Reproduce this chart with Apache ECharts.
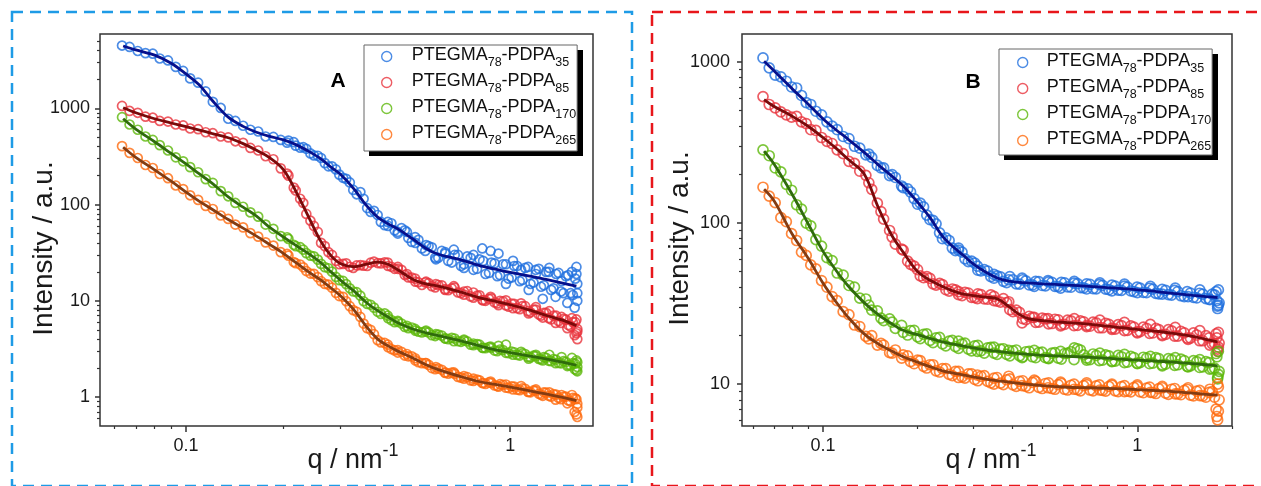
<!DOCTYPE html>
<html><head><meta charset="utf-8">
<script src="https://cdn.jsdelivr.net/npm/echarts@6/dist/echarts.min.js"></script>
<style>html,body{margin:0;padding:0;background:#fff}#c{width:1261px;height:486px}</style>
</head><body><div id="c"></div>
<script>
const seriesNames = ['PTEGMA78-PDPA35','PTEGMA78-PDPA85','PTEGMA78-PDPA170','PTEGMA78-PDPA265'];

// ---------- Panel A ----------
const qA = [0.0635,0.067,0.071,0.075,0.079,0.083,0.088,0.093,0.098,0.103,
0.109,0.115,0.121,0.128,0.135,0.142,0.150,0.158,0.167,0.176,
0.186,0.196,0.207,0.218,0.230,0.242,0.255,0.268,0.282,0.297,
0.312,0.328,0.345,0.362,0.380,0.399,0.419,0.440,0.462,0.485,
0.509,0.534,0.560,0.587,0.615,0.644,0.674,0.705,0.737,0.770,
0.804,0.839,0.875,0.912,0.950,0.989,1.029,1.070,1.112,1.155,
1.199,1.244,1.290,1.337,1.385,1.434,1.484,1.535,1.587,1.610];
const blueA = [4500,4350,3950,3750,3700,3300,3150,2700,2450,2050,
1850,1500,1170,1010,780,740,660,600,575,510,
505,470,462,410,395,340,322,270,250,205,
185,142,135,92,86,66,66,54,57,45,
46,35,37,28,33,26,30,23,29,21,
27,19,25,18,24,17,23,16,22,15,
21,14,20,13,19,12.5,18,12,17,12];
const redA = [1060,940,900,820,800,740,730,680,665,618,
608,565,552,510,500,455,438,388,365,318,
296,238,200,140,104,68,52,37,30,24,
24.5,22,23.5,23,25.5,24.5,25,21.5,21,17.5,
17,14.6,15.3,13.8,14.5,12.9,13.7,12.0,12.6,10.8,
11.4,10.0,10.6,9.4,9.9,8.7,9.3,8.2,8.8,7.6,
8.1,7.0,7.5,6.4,7.0,5.9,6.4,5.4,6.0,5.1];
const greenA = [810,680,600,510,470,415,365,310,282,245,
217,184,168,138,122,104,95,83,75,62,
56,47,44,37,34,29.5,26.8,22.4,20.1,16.4,
14.9,12.5,11.3,9.3,8.5,7.3,7.0,6.0,5.8,5.2,
5.1,4.7,4.7,4.3,4.35,4.0,4.05,3.75,3.78,3.46,
3.5,3.22,3.25,3.0,3.08,2.85,2.92,2.7,2.8,2.58,
2.66,2.46,2.56,2.36,2.44,2.24,2.32,2.13,2.22,2.05];
const orangeA = [405,345,305,258,240,208,188,158,145,125,
112,97,90,77,71,62,58,50.5,46.5,40.5,
37.5,32,29.5,24.6,22.3,19.2,17.6,15.0,13.7,11.2,
9.9,8.0,6.8,5.2,4.5,3.7,3.5,3.05,2.95,2.65,
2.53,2.25,2.16,1.95,1.92,1.75,1.74,1.59,1.61,1.47,
1.49,1.37,1.4,1.3,1.34,1.24,1.28,1.18,1.22,1.12,
1.16,1.06,1.11,1.01,1.06,0.95,1.01,0.9,0.97,0.85];
const qA2 = [0.42,0.45,0.48,0.51,0.55,0.59,0.63,0.67,0.72,0.77,0.82,0.87,0.92,0.97,1.02,1.08,1.14,1.2,1.26,1.32,1.38,1.44,1.5,1.55,1.58,1.6,1.61,1.61];
const blueA2 = [60,50,52,40,38,27,31,34,22,30,35,33,31,15,26,21,13,19,10.5,22,11,16,9.5,20,8.5,22.5,10,15];
const redA2 = [23.0,22.5,19.0,15.8,15.8,14.9,13.0,14.2,11.6,12.2,10.2,11.0,9.0,10.1,8.4,9.4,7.4,8.6,6.7,7.8,5.9,6.8,5.2,6.6,4.4,6.4,4.0,4.8];
const greenA2 = [6.6,6.2,5.5,4.9,4.9,4.5,4.05,3.8,3.95,3.6,3.25,3.35,3.4,3.5,2.75,2.95,2.5,2.75,2.4,2.75,2.25,2.6,2.1,2.55,1.95,2.4,1.85,2.3];
const orangeA2 = [3.3,2.9,2.8,2.4,2.25,2.05,1.8,1.8,1.55,1.55,1.4,1.45,1.28,1.35,1.2,1.3,1.13,1.2,1.03,1.12,0.94,1.05,0.86,1.05,0.7,0.95,0.62,0.78];
const qA3 = [0.205,0.215,0.225,0.235,0.248,0.261,0.275,0.29,0.305,0.32,
0.336,0.353,0.371,0.39,0.41,0.43,0.45,0.473,0.497,0.521,
0.547,0.573,0.6,0.63,0.66,0.69,0.72,0.755,0.79,0.825,
0.86,0.895,0.93,0.97,1.01,1.05,1.09,1.135,1.18,1.225,
1.27,1.315,1.36,1.41,1.46,1.51,1.56,1.6];
const blueA3 = [440,445,390,380,325,305,250,232,190,170,
128,115,84,78,61,64,52,54,41,43,
33,36,28,32,25,30,24,28,21.5,26,
19.5,24.5,18.5,24,17.5,23,16.5,22.5,15.5,21.5,
14.5,20,13.5,19.5,12,18.5,11.5,19];
const redA3 = [210,150,115,80,60,40,32,26,24.2,22.6,
23.3,23.2,24.9,24.7,25.1,22.6,21.5,18.6,17.4,15.6,
15.5,14.2,14.6,13.2,13.5,12.2,12.5,11.1,11.3,10.1,
10.5,9.6,10.0,8.95,9.35,8.4,8.8,7.8,8.1,7.2,
7.5,6.6,7.0,6.15,6.5,5.6,6.0,4.6];
const greenA3 = [45.8,38.2,36.1,31.3,29.0,24.2,21.8,17.7,16.1,13.5,
12.3,9.9,9.1,7.7,7.4,6.3,6.05,5.35,5.28,4.78,
4.79,4.39,4.46,4.08,4.12,3.8,3.86,3.5,3.55,3.24,
3.31,3.04,3.12,2.88,2.96,2.74,2.84,2.61,2.7,2.49,
2.6,2.38,2.48,2.26,2.36,2.15,2.25,1.9];
const orangeA3 = [30.8,25.3,23.8,20.4,19.1,16.0,14.7,12.1,11.0,8.8,
7.7,5.8,5.0,3.9,3.65,3.15,3.08,2.7,2.65,2.3,
2.25,2.0,1.98,1.78,1.79,1.62,1.65,1.49,1.52,1.39,
1.42,1.32,1.36,1.25,1.29,1.19,1.23,1.13,1.17,1.08,
1.12,1.03,1.07,0.98,1.01,0.92,0.98,0.66];
const qFitA = [0.064,0.07,0.08,0.09,0.1,0.11,0.12,0.135,0.15,0.165,0.18,0.2,0.22,0.24,0.26,0.28,0.3,0.33,0.36,0.39,0.42,0.45,0.5,0.55,0.6,0.7,0.8,0.9,1.0,1.15,1.3,1.45,1.6];
const blueFitA = [4450,4050,3580,2950,2280,1750,1230,810,650,565,515,470,415,355,300,245,205,145,98,74,63,56,44,35,30.5,26.8,23.4,21.3,19.7,18.1,16.6,15.3,14.2];
const redFitA = [1015,900,780,705,645,595,550,495,430,367,312,230,130,72,42,29.5,24.3,22.6,24.0,25.2,24.0,21.0,16.8,15.0,14.2,12.4,10.8,9.9,9.1,8.0,7.0,6.3,5.5];
const greenFitA = [780,610,450,340,265,208,168,120,94,76,59,46,37,30.5,25,20,16.3,12.6,9.6,7.9,6.8,5.9,5.1,4.65,4.35,3.85,3.42,3.1,2.9,2.66,2.48,2.3,2.14];
const orangeFitA = [395,310,230,175,135,108,90,70,57,47,39,31,24.5,19.8,16.5,13.6,11.2,8.0,5.4,4.0,3.4,3.0,2.55,2.17,1.93,1.64,1.45,1.35,1.27,1.16,1.07,0.99,0.92];

// ---------- Panel B ----------
const qB = [0.0645,0.0675,0.0705,0.0735,0.0765,0.0795,0.0825,0.0855,0.0885,0.0915,
0.095,0.099,0.103,0.107,0.111,0.116,0.121,0.126,0.131,0.137,
0.143,0.149,0.156,0.163,0.170,0.178,0.186,0.195,0.204,0.214,
0.224,0.235,0.246,0.258,0.270,0.283,0.297,0.311,0.326,0.342,
0.358,0.375,0.393,0.412,0.432,0.453,0.475,0.498,0.522,0.547,
0.573,0.600,0.629,0.659,0.690,0.723,0.757,0.793,0.830,0.869,
0.910,0.953,0.998,1.045,1.094,1.145,1.199,1.255,1.314,1.376,
1.440,1.508,1.578,1.652,1.730,1.790,1.810];
const blueB = [1060,920,830,810,760,700,690,620,560,545,
495,470,425,400,380,345,335,300,292,265,
256,228,220,197,192,170,163,142,133,112,
104,87,81,70,68,60,58,51,51.5,46.5,
47,43.5,46.5,42,44.5,41.3,43.5,41.0,43.2,40.5,
42.8,40.2,42.4,39.8,42.0,39.2,41.5,38.9,41.2,38.4,
40.6,37.9,40.0,37.1,39.4,36.6,38.8,36.0,38.2,35.4,
37.5,34.6,36.7,34.0,36.2,33.0,31.0];
const redB = [610,545,520,490,470,455,460,425,415,380,
376,340,322,312,285,270,242,235,210,198,
162,133,106,90,74,69,58,54,47,46.5,
42,42.2,38.6,39.0,36.0,37.2,34.6,36.4,33.9,35.8,
32.8,34.0,29.0,28.8,25.5,26.4,24.2,25.7,23.7,25.3,
23.4,25.0,23.1,24.7,22.8,24.3,22.4,23.9,21.9,23.4,
21.5,23.0,21.1,22.6,20.7,22.2,20.3,21.8,19.9,21.3,
19.3,20.8,18.6,20.0,17.8,19.4,17.0];
const greenB = [285,262,220,208,174,160,130,122,100,96,
79,72,61,58.5,49,47.5,41,40,34.2,33.8,
28.8,28.5,24.8,25.4,22.2,23.2,20.2,21.6,19.2,20.5,
18.1,19.5,17.3,18.7,16.7,18.0,16.1,17.4,15.6,16.9,
15.3,16.6,15.0,16.3,14.8,16.0,14.6,15.8,14.4,15.7,
14.3,15.6,14.2,16.3,14.1,15.4,14.0,15.2,13.9,15.1,
13.6,14.9,13.5,14.7,13.4,14.6,13.2,14.4,13.1,14.3,
12.9,14.0,12.7,13.8,12.5,14.8,11.5];
const orangeB = [167,147,134,108,102,86,78,66,63,55,
52,44,40,35,33,28.2,27.0,23.3,22.8,19.8,
20.0,17.5,17.5,15.7,16.3,14.5,15.0,13.4,14.0,12.6,
13.2,11.9,12.5,11.3,12.0,10.9,11.6,10.5,11.3,10.2,
11.0,9.95,10.8,9.7,10.5,9.5,10.4,9.4,10.2,9.3,
10.1,9.2,10.0,9.1,9.95,9.1,9.9,9.05,9.85,9.0,
9.8,8.95,9.7,8.85,9.6,8.75,9.5,8.65,9.4,8.6,
9.3,8.45,9.15,8.3,9.0,6.3,9.6];
const qB2 = [0.27,0.31,0.35,0.39,0.43,0.47,0.52,0.57,0.63,0.69,0.76,0.83,0.91,1.0,1.1,1.2,1.32,1.45,1.58,1.7,1.78,1.8,1.81,1.82];
const blueB2 = [70,54,48,44.5,45.5,40.5,44.0,39.5,43.5,39.0,42.5,38.0,41.8,37.0,40.5,36.2,39.5,35.0,38.5,33.5,37.5,29.5,38.5,32.0];
const redB2 = [37.5,34.0,33.0,32.5,24.0,26.0,25.5,23.0,25.5,23.2,25.0,22.3,24.2,20.8,23.5,20.0,22.5,19.0,21.5,17.5,20.5,16.5,21.0,18.0];
const greenB2 = [18.5,16.0,17.0,16.2,14.6,16.2,14.5,16.0,16.8,14.5,15.6,13.8,15.3,13.4,14.9,13.0,14.6,12.8,14.2,12.4,15.5,11.0,16.0,12.0];
const orangeB2 = [11.0,11.4,10.0,11.2,9.8,10.6,9.5,10.3,9.3,10.2,9.2,10.0,9.0,9.9,8.9,9.7,8.7,9.5,8.5,9.3,7.0,10.0,6.8,8.0];
const qB3 = [0.14,0.153,0.166,0.18,0.19,0.2,0.209,0.219,0.229,0.24,
0.252,0.264,0.277,0.29,0.304,0.318,0.334,0.35,0.367,0.384,
0.402,0.422,0.442,0.464,0.486,0.51,0.535,0.56,0.587,0.615,
0.645,0.675,0.707,0.74,0.775,0.812,0.85,0.89,0.93,0.975,
1.02,1.07,1.12,1.17,1.23,1.285,1.345,1.41,1.475,1.545,
1.615,1.69,1.76,1.8];
const blueB3 = [268,220,200,166,156,131,126,105,99,80,
78,67.5,66,57.7,56.5,50.5,50.4,45.5,46.3,42.7,
44.5,41.8,43.8,41.3,43.3,40.8,42.9,40.4,42.5,40.0,
42.1,39.6,41.6,39.1,41.1,38.6,40.6,38.2,40.1,37.6,
39.5,37.0,38.9,36.4,38.2,35.7,37.6,35.0,36.8,34.3,
36.2,33.7,35.8,30.5];
const redB3 = [178,118,82,68,55.5,51.5,45.8,45.4,41.2,41.5,
37.8,38.5,35.5,36.8,34.5,36.0,33.7,35.1,32.3,32.1,
28.2,27.9,25.2,26.0,24.3,25.4,23.8,25.1,23.5,24.7,
23.2,24.4,22.9,24.0,22.4,23.5,22.0,23.1,21.6,22.6,
21.2,22.2,20.8,21.8,20.4,21.4,19.9,20.8,19.3,20.2,
18.6,19.4,17.9,16.0];
const greenB3 = [31.0,25.7,24.3,21.0,21.5,19.7,20.4,18.7,19.4,17.8,
18.5,17.1,17.8,16.5,17.3,16.1,16.8,15.6,16.5,15.3,
16.1,15.0,15.9,14.8,15.7,14.6,15.6,14.5,15.5,15.9,
16.6,15.2,14.2,15.1,14.1,15.0,13.9,14.8,13.7,14.6,
13.6,14.5,13.5,14.4,13.3,14.2,13.2,14.0,13.0,13.8,
12.8,13.6,12.6,10.8];
const orangeB3 = [19.1,17.9,15.6,15.2,13.8,14.1,12.9,13.2,12.1,12.5,
11.5,12.0,11.1,11.6,10.7,11.2,10.4,10.9,10.15,10.65,
9.9,10.4,9.7,10.25,9.55,10.1,9.4,9.95,9.3,9.85,
9.25,9.8,9.2,9.75,9.15,9.7,9.1,9.65,9.05,9.55,
8.95,9.45,8.88,9.38,8.8,9.3,8.7,9.15,8.55,9.05,
8.45,8.9,8.3,6.0];
const qFitB = [0.065,0.07,0.08,0.09,0.1,0.11,0.12,0.135,0.15,0.165,0.18,0.2,0.22,0.24,0.26,0.28,0.3,0.33,0.36,0.39,0.42,0.45,0.5,0.55,0.6,0.7,0.8,0.9,1.0,1.15,1.3,1.5,1.65,1.8];
const blueFitB = [1010,880,680,545,445,380,333,276,230,197,170,135,107,83,71,63,56,49.5,45.5,43.6,42.9,42.5,42.0,41.6,41.2,40.5,39.8,39.2,38.5,37.6,36.6,35.6,35.0,34.5];
const redFitB = [585,530,460,398,340,292,250,203,125,85,66,50,44,40.4,37.8,36.2,35.5,34.7,33.8,30.4,27.2,25.5,24.8,24.4,24.1,23.6,22.9,22.4,21.9,21.3,20.7,19.8,19.0,18.3];
const greenFitB = [280,232,150,98,67,51,41,32.2,27,23.8,21.6,20.3,19.2,18.3,17.7,17.2,16.8,16.3,16.0,15.7,15.5,15.3,15.1,15.0,14.9,14.7,14.5,14.25,14.1,13.9,13.7,13.4,13.2,13.0];
const orangeFitB = [162,137,85,60,42.5,32.5,26.2,20.6,17.8,16.1,14.8,13.7,12.8,12.1,11.7,11.4,11.1,10.75,10.5,10.3,10.1,9.97,9.8,9.67,9.57,9.5,9.43,9.35,9.25,9.12,9.0,8.8,8.65,8.55];

// ---------- ticks ----------
const xMajorTicks = [0.1, 1];
const xMinorTicksA = [0.06,0.07,0.08,0.09,0.2,0.3,0.4,0.5,0.6,0.7,0.8,0.9];
const xMinorTicksB = [0.06,0.07,0.08,0.09,0.2,0.3,0.4,0.5,0.6,0.7,0.8,0.9,2];
const yMajorTicksA = [1,10,100,1000];
const yMinorTicksA = [0.6,0.7,0.8,0.9,2,3,4,5,6,7,8,9,20,30,40,50,60,70,80,90,200,300,400,500,600,700,800,900,2000,3000,4000,5000];
const yMajorTicksB = [10,100,1000];
const yMinorTicksB = [6,7,8,9,20,30,40,50,60,70,80,90,200,300,400,500,600,700,800,900];

const FONT = '"Liberation Sans", Arial, sans-serif';
const colors = ['#1f6fde','#e8333c','#5db80a','#ff6a0e'];
const fitColors = ['#06108c','#7a0a0a','#2f6b0c','#843c12'];
const AX = '#333';
const TXT = '#1a1a1a';

const zip = (qs, vs) => qs.map((q, i) => [q, vs[i]]);

function xAxes(grid, min, max, minor) {
  return [{
    type: 'log', gridIndex: grid, min: min, max: max, position: 'bottom',
    axisLine: {show: false}, splitLine: {show: false},
    axisTick: {show: true, length: 6, customValues: xMajorTicks, lineStyle: {color: AX, width: 1.5}},
    axisLabel: {customValues: xMajorTicks, formatter: v => String(v), margin: 11, fontSize: 18, fontFamily: FONT, color: TXT},
    name: '{m|q / nm}{sup|-1}', nameLocation: 'middle', nameGap: 16, nameMoveOverlap: false,
    nameTextStyle: {padding: [0, 0, 0, grid === 0 ? 13 : 8], rich: {
      m: {fontSize: 27, fontFamily: FONT, color: TXT, lineHeight: 30, padding: [5, 0, 0, 0], verticalAlign: 'top'},
      sup: {fontSize: 18, fontFamily: FONT, color: TXT, lineHeight: 18, verticalAlign: 'top'}
    }}
  }, {
    type: 'log', gridIndex: grid, min: min, max: max, position: 'bottom',
    axisLine: {show: false}, splitLine: {show: false}, axisLabel: {show: false},
    axisTick: {show: true, length: 3, customValues: minor, lineStyle: {color: AX, width: 1.2}}
  }];
}
function yAxes(grid, min, max, major, minor, gap, shift) {
  return [{
    type: 'log', gridIndex: grid, min: min, max: max, position: 'left',
    axisLine: {show: false}, splitLine: {show: false},
    axisTick: {show: true, length: 5, customValues: major, lineStyle: {color: AX, width: 1.5}},
    axisLabel: {customValues: major, formatter: v => String(v), margin: grid === 0 ? 10 : 12, fontSize: 18, fontFamily: FONT, color: TXT},
    name: 'Intensity / a.u.', nameLocation: 'middle', nameGap: gap, nameRotate: 90, nameMoveOverlap: false,
    nameTextStyle: {fontSize: 28, fontFamily: FONT, color: TXT, padding: [0, shift, 0, 0]}
  }, {
    type: 'log', gridIndex: grid, min: min, max: max, position: 'left',
    axisLine: {show: false}, splitLine: {show: false}, axisLabel: {show: false},
    axisTick: {show: true, length: 3, customValues: minor, lineStyle: {color: AX, width: 1.2}}
  }];
}

const series = [];
function addPanel(xi, yi, sets, qFit, fits, size) {
  for (let i = 0; i < 4; i++) {
    sets.forEach(set => {
      series.push({type: 'scatter', name: seriesNames[i], xAxisIndex: xi, yAxisIndex: yi, data: zip(set[0], set[1][i]),
        symbol: 'circle', symbolSize: size, silent: true, z: 2,
        itemStyle: {color: 'transparent', borderColor: colors[i], borderWidth: 1.7}});
    });
  }
  fits.forEach((f, i) => {
    series.push({type: 'line', name: seriesNames[i] + ' fit', xAxisIndex: xi, yAxisIndex: yi, data: zip(qFit, f),
      showSymbol: false, symbol: 'none', smooth: 0.35, silent: true, z: 3,
      lineStyle: {color: fitColors[i], width: 2.8}});
  });
}
addPanel(0, 0, [
  [qA, [blueA, redA, greenA, orangeA]],
  [qA2, [blueA2, redA2, greenA2, orangeA2]],
  [qA3, [blueA3, redA3, greenA3, orangeA3]]
], qFitA, [blueFitA, redFitA, greenFitA, orangeFitA], 9);
addPanel(2, 2, [
  [qB, [blueB, redB, greenB, orangeB]],
  [qB2, [blueB2, redB2, greenB2, orangeB2]],
  [qB3, [blueB3, redB3, greenB3, orangeB3]]
], qFitB, [blueFitB, redFitB, greenFitB, orangeFitB], 10);

const legendFmt = n => n.replace(/^PTEGMA(\d+)-PDPA(\d+)$/, '{f|PTEGMA}{s|$1}{m|-PDPA}{s|$2}');
function legendRich(spacer) {
  return {
    f: {fontSize: 18, fontFamily: FONT, color: '#111', lineHeight: 21, verticalAlign: 'top', padding: [0, 0, 0, spacer]},
    m: {fontSize: 18, fontFamily: FONT, color: '#111', lineHeight: 21, verticalAlign: 'top'},
    s: {fontSize: 12.5, fontFamily: FONT, color: '#111', lineHeight: 13, padding: [10, 0, 0, 0], verticalAlign: 'top'}
  };
}
function legend(left, top, pad, spacer) {
  return {
    data: seriesNames.map((n, i) => ({name: n, icon: 'circle',
      itemStyle: {color: 'transparent', borderColor: colors[i], borderWidth: 1.4}})),
    orient: 'vertical', left: left, top: top, padding: pad, itemGap: 3, itemWidth: 10, itemHeight: 10,
    backgroundColor: '#fff', borderColor: '#666', borderWidth: 1, z: 10,
    selectedMode: false, formatter: legendFmt,
    textStyle: {fontSize: 18, fontFamily: FONT, color: '#111', rich: legendRich(spacer)}
  };
}

const chart = echarts.init(document.getElementById('c'), null, {renderer: 'canvas'});
chart.setOption({
  animation: false,
  backgroundColor: '#fff',
  grid: [
    {left: 100, top: 34, width: 493, height: 392, show: true, borderColor: AX, borderWidth: 1.5, outerBoundsMode: 'none'},
    {left: 742, top: 34, width: 490, height: 392, show: true, borderColor: AX, borderWidth: 1.5, outerBoundsMode: 'none'}
  ],
  xAxis: [...xAxes(0, 0.0543, 1.8, xMinorTicksA), ...xAxes(1, 0.0553, 2.0, xMinorTicksB)],
  yAxis: [...yAxes(0, 0.5, 5930, yMajorTicksA, yMinorTicksA, 42, 37), ...yAxes(1, 5.5, 1493, yMajorTicksB, yMinorTicksB, 48, 17)],
  legend: [legend(364, 45, [1, 1, 4, 17], 15), legend(999, 49, [3, 1, 2, 18], 14)],
  graphic: [
    {type: 'rect', silent: true, shape: {x: 12, y: 12, width: 620, height: 474},
      style: {fill: 'none', stroke: '#1e9be6', lineWidth: 2.5, lineDash: [11, 7]}},
    {type: 'rect', silent: true, shape: {x: 652, y: 12, width: 640, height: 474},
      style: {fill: 'none', stroke: '#e8161b', lineWidth: 2.5, lineDash: [11, 7]}},
    // drop shadows under the two legend boxes
    {type: 'rect', silent: true, z: 5, shape: {x: 369, y: 50, width: 214, height: 106}, style: {fill: '#000'}},
    {type: 'rect', silent: true, z: 5, shape: {x: 1004, y: 54, width: 214, height: 106}, style: {fill: '#000'}},
    {type: 'text', silent: true, x: 338, y: 81, style: {text: 'A', fontSize: 21, fontWeight: 'bold', fontFamily: FONT, fill: '#000', align: 'center', verticalAlign: 'middle'}},
    {type: 'text', silent: true, x: 973, y: 82, style: {text: 'B', fontSize: 21, fontWeight: 'bold', fontFamily: FONT, fill: '#000', align: 'center', verticalAlign: 'middle'}}
  ],
  series: series
});
</script>
</body></html>
